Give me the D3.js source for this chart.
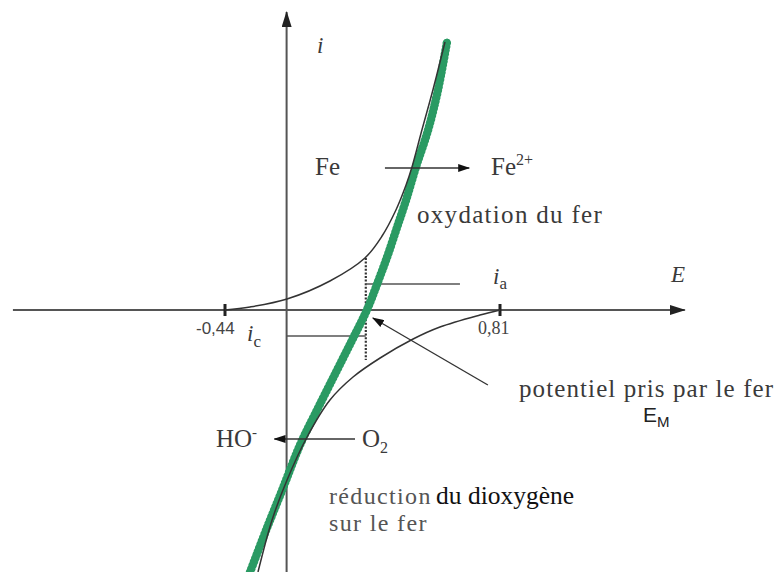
<!DOCTYPE html>
<html>
<head>
<meta charset="utf-8">
<script src="https://cdn.jsdelivr.net/npm/d3@7"></script>
<style>
  body { margin: 0; background: #fff; }
  svg { display: block; }
</style>
</head>
<body>
<svg id="chart" width="777" height="572"></svg>
<script>
// Potential E (V) and current i (arbitrary units), Evans-type diagram for iron corrosion.
const oxidationE = [-0.44, -0.326, -0.158, 0.037, 0.196, 0.274, 0.337, 0.383, 0.41, 0.455, 0.505, 0.56];
const oxidationI = [0, 0.3, 1.1, 2.9, 5.2, 7.4, 10, 12.5, 14.3, 18, 22, 26.8];

const reductionE = [0.81, 0.719, 0.537, 0.415, 0.265, 0.142, 0.037, -0.067, -0.158, -0.226, -0.29];
const reductionI = [0, -0.5, -1.7, -2.9, -4.8, -6.7, -9, -12.7, -17, -21, -26.2];

const totalE = [-0.326, -0.253, -0.18, -0.099, -0.017, 0.065, 0.138, 0.205, 0.255, 0.3, 0.341, 0.383, 0.428, 0.483, 0.528, 0.569];
const totalI = [-26.2, -22, -18, -13.5, -9.8, -6.2, -3, 0, 2.8, 5.5, 8.2, 11, 14.3, 18, 22, 26.8];

const tickValues = [-0.44, 0.81];
const tickLabels = ["-0,44", "0,81"];

const corrosionPotential = 0.2;   // E_M
const anodicCurrent = 2.6;        // i_a
const cathodicCurrent = -2.6;     // i_c
const dottedSpan = [5.2, -5.0];

const axisE = [-1.404, 1.65];     // horizontal axis extent
const axisI = [-26.2, 29.8];      // vertical axis extent
const axisOriginE = -0.16;        // where the i axis crosses

const svg = d3.select("#chart");
const x = d3.scaleLinear().domain([-0.44, 0.81]).range([225, 500]);
const y = d3.scaleLinear().domain([0, 10]).range([310, 210]);

const zip = (a, b) => a.map((v, k) => [v, b[k]]);
const line = d3.line().x(d => x(d[0])).y(d => y(d[1])).curve(d3.curveCatmullRom.alpha(0.5));

// arrowheads
const defs = svg.append("defs");
defs.append("marker").attr("id", "axisHead")
  .attr("viewBox", "0 0 16 10").attr("refX", 15).attr("refY", 5)
  .attr("markerUnits", "userSpaceOnUse").attr("markerWidth", 16).attr("markerHeight", 10)
  .attr("orient", "auto")
  .append("path").attr("d", "M0,0 L16,5 L0,10 Z").attr("fill", "#222");
defs.append("marker").attr("id", "smallHead")
  .attr("viewBox", "0 0 12 8").attr("refX", 11).attr("refY", 4)
  .attr("markerUnits", "userSpaceOnUse").attr("markerWidth", 12).attr("markerHeight", 8)
  .attr("orient", "auto")
  .append("path").attr("d", "M0,0 L12,4 L0,8 Z").attr("fill", "#111");

// axes
svg.append("line")
  .attr("x1", x(axisE[0])).attr("x2", x(axisE[1]))
  .attr("y1", y(0)).attr("y2", y(0))
  .attr("stroke", "#555").attr("stroke-width", 2).attr("marker-end", "url(#axisHead)");
svg.append("line")
  .attr("x1", x(axisOriginE)).attr("x2", x(axisOriginE))
  .attr("y1", y(axisI[0])).attr("y2", y(axisI[1]))
  .attr("stroke", "#555").attr("stroke-width", 2).attr("marker-end", "url(#axisHead)");

// ticks
svg.selectAll("rect.tick").data(tickValues).join("rect")
  .attr("class", "tick")
  .attr("x", d => x(d) - 1.5).attr("y", y(0) - 6)
  .attr("width", 3).attr("height", 12).attr("fill", "#222");

svg.append("text").text(tickLabels[0])
  .attr("x", x(tickValues[0]) - 29).attr("y", 334)
  .attr("font-family", "'Liberation Sans', sans-serif").attr("font-size", 17).attr("fill", "#444");
svg.append("text").text(tickLabels[1])
  .attr("x", x(tickValues[1]) - 22).attr("y", 334)
  .attr("font-family", "'Liberation Serif', serif").attr("font-size", 18).attr("fill", "#444");

// construction lines for i_a, i_c and E_M
svg.append("line")
  .attr("x1", x(corrosionPotential)).attr("x2", x(corrosionPotential))
  .attr("y1", y(dottedSpan[0])).attr("y2", y(dottedSpan[1]))
  .attr("stroke", "#333").attr("stroke-width", 2.2).attr("stroke-dasharray", "2,1.6");
svg.append("line")
  .attr("x1", x(corrosionPotential)).attr("x2", x(0.628))
  .attr("y1", y(anodicCurrent)).attr("y2", y(anodicCurrent))
  .attr("stroke", "#555").attr("stroke-width", 1.6);
svg.append("line")
  .attr("x1", x(axisOriginE)).attr("x2", x(corrosionPotential))
  .attr("y1", y(cathodicCurrent)).attr("y2", y(cathodicCurrent))
  .attr("stroke", "#555").attr("stroke-width", 1.6);

// global current curve
const total = zip(totalE, totalI);
svg.append("path").datum(total)
  .attr("d", line).attr("fill", "none").attr("stroke", "#2e9b66").attr("stroke-width", 6.5)
  .attr("stroke-linecap", "round");
svg.append("path").datum(total)
  .attr("d", line).attr("fill", "none").attr("stroke", "#2a9a63").attr("stroke-width", 8.5)
  .attr("stroke-linecap", "round").attr("stroke-dasharray", "0.1,3.6");

// partial current curves
svg.append("path").datum(zip(oxidationE, oxidationI))
  .attr("d", line).attr("fill", "none").attr("stroke", "#333").attr("stroke-width", 1.5);
svg.append("path").datum(zip(reductionE, reductionI))
  .attr("d", line).attr("fill", "none").attr("stroke", "#333").attr("stroke-width", 1.5);

// reaction arrows
svg.append("line")
  .attr("x1", x(0.287)).attr("x2", x(0.67)).attr("y1", y(14.2)).attr("y2", y(14.2))
  .attr("stroke", "#333").attr("stroke-width", 1.4).attr("marker-end", "url(#smallHead)");
svg.append("line")
  .attr("x1", x(0.151)).attr("x2", x(-0.215)).attr("y1", y(-12.9)).attr("y2", y(-12.9))
  .attr("stroke", "#333").attr("stroke-width", 1.4).attr("marker-end", "url(#smallHead)");
svg.append("line")
  .attr("x1", x(0.755)).attr("x2", x(0.232)).attr("y1", y(-7.5)).attr("y2", y(-0.8))
  .attr("stroke", "#333").attr("stroke-width", 1.4).attr("marker-end", "url(#smallHead)");

// labels
const serif = "'Liberation Serif', 'Times New Roman', serif";
function label(txt, px, py, opts = {}) {
  const t = svg.append("text").attr("x", px).attr("y", py)
    .attr("font-family", opts.family || serif)
    .attr("font-size", opts.size || 25)
    .attr("fill", opts.fill || "#3a3a3a")
    .attr("letter-spacing", opts.spacing || 0);
  if (opts.italic) t.attr("font-style", "italic");
  t.text(txt);
  return t;
}

label("i", 317, 53, { italic: true, size: 23 });
label("E", 671, 282, { italic: true, size: 23 });

const ia = label("i", 493, 284, { italic: true, size: 23 });
ia.append("tspan").attr("font-style", "normal").attr("font-size", 17).attr("dy", 5).text("a");
const ic = label("i", 247, 341, { italic: true, size: 23 });
ic.append("tspan").attr("font-style", "normal").attr("font-size", 17).attr("dy", 6).text("c");

label("Fe", 315, 175);
const fe2 = label("Fe", 491, 175);
fe2.append("tspan").attr("font-size", 16).attr("dy", -10).text("2+");

label("oxydation du fer", 417, 223, { spacing: 1.3 });

label("potentiel pris par le fer", 519, 397, { spacing: 1.1 });
const em = label("E", 643, 422, { family: "'Liberation Sans', sans-serif", size: 21, fill: "#222" });
em.append("tspan").attr("font-size", 15).attr("dy", 5).text("M");

const ho = label("HO", 216, 447);
ho.append("tspan").attr("font-size", 15).attr("dy", -10).text("-");
const o2 = label("O", 362, 447);
o2.append("tspan").attr("font-size", 16).attr("dy", 6).text("2");

label("réduction", 329, 504, { size: 24, spacing: 1.35, fill: "#555" });
label("du dioxygène", 436, 504, { size: 25.5, fill: "#111" });
label("sur le fer", 329, 531, { size: 24, spacing: 1.35, fill: "#555" });
</script>
</body>
</html>
